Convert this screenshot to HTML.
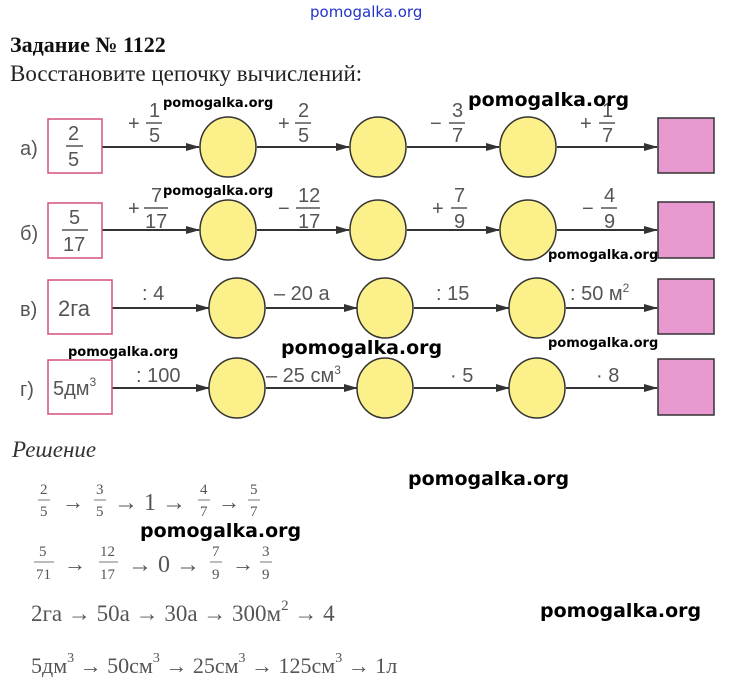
<!DOCTYPE html>
<html><head><meta charset="utf-8"><style>
body{margin:0;background:#fff;width:735px;height:692px;overflow:hidden}
svg{display:block}
.s{font-family:"Liberation Sans",sans-serif;fill:#555}
.w{font-family:"DejaVu Sans","Liberation Sans",sans-serif;fill:#000;font-weight:bold}
.r{font-family:"Liberation Serif",serif;fill:#555}
</style></head><body>
<svg width="735" height="692" viewBox="0 0 735 692" xmlns="http://www.w3.org/2000/svg">
<defs><marker id="a" markerWidth="14" markerHeight="8" refX="13" refY="4" orient="auto" markerUnits="userSpaceOnUse"><path d="M0,0 L14,4 L0,8 z" fill="#333"/></marker></defs>
<text x="310" y="17" font-family="DejaVu Sans,sans-serif" font-size="15" fill="#2233cc">pomogalka.org</text>
<text x="10" y="52" font-family="Liberation Serif,serif" font-weight="bold" font-size="22" fill="#111">Задание № 1122</text>
<text x="10" y="81" font-family="Liberation Serif,serif" font-size="23" fill="#222">Восстановите цепочку вычислений:</text>

<g stroke="#333" stroke-width="2" fill="none">
<line x1="102" y1="147" x2="199" y2="147" marker-end="url(#a)"/>
<line x1="257" y1="147" x2="349" y2="147" marker-end="url(#a)"/>
<line x1="407" y1="147" x2="499" y2="147" marker-end="url(#a)"/>
<line x1="557" y1="147" x2="657" y2="147" marker-end="url(#a)"/>
<line x1="102" y1="230" x2="199" y2="230" marker-end="url(#a)"/>
<line x1="257" y1="230" x2="349" y2="230" marker-end="url(#a)"/>
<line x1="407" y1="230" x2="499" y2="230" marker-end="url(#a)"/>
<line x1="557" y1="230" x2="657" y2="230" marker-end="url(#a)"/>
<line x1="112" y1="308" x2="209" y2="308" marker-end="url(#a)"/>
<line x1="266" y1="308" x2="357" y2="308" marker-end="url(#a)"/>
<line x1="414" y1="308" x2="509" y2="308" marker-end="url(#a)"/>
<line x1="566" y1="308" x2="657" y2="308" marker-end="url(#a)"/>
<line x1="112" y1="388" x2="209" y2="388" marker-end="url(#a)"/>
<line x1="266" y1="388" x2="357" y2="388" marker-end="url(#a)"/>
<line x1="414" y1="388" x2="509" y2="388" marker-end="url(#a)"/>
<line x1="566" y1="388" x2="657" y2="388" marker-end="url(#a)"/>
</g>
<g fill="#fff" stroke="#d4507a" stroke-width="1.5">
<rect x="48" y="119" width="54" height="54"/><rect x="48" y="203" width="54" height="55"/>
<rect x="48" y="280" width="64" height="54"/><rect x="48" y="360" width="64" height="54"/>
</g>
<g fill="#e89ad0" stroke="#333" stroke-width="1.5">
<rect x="658" y="118" width="56" height="55"/><rect x="658" y="202" width="56" height="56"/>
<rect x="658" y="279" width="56" height="55"/><rect x="658" y="359" width="56" height="56"/>
</g>
<g fill="#fbf08a" stroke="#333" stroke-width="1.5">
<ellipse cx="228" cy="147" rx="28" ry="30"/><ellipse cx="378" cy="147" rx="28" ry="30"/><ellipse cx="528" cy="147" rx="28" ry="30"/>
<ellipse cx="228" cy="230" rx="28" ry="30"/><ellipse cx="378" cy="230" rx="28" ry="30"/><ellipse cx="528" cy="230" rx="28" ry="30"/>
<ellipse cx="237" cy="308" rx="28" ry="30"/><ellipse cx="385" cy="308" rx="28" ry="30"/><ellipse cx="537" cy="308" rx="28" ry="30"/>
<ellipse cx="237" cy="388" rx="28" ry="30"/><ellipse cx="385" cy="388" rx="28" ry="30"/><ellipse cx="537" cy="388" rx="28" ry="30"/>
</g>
<g class="s" font-size="20">
<text x="20" y="155">а)</text><text x="20" y="240">б)</text><text x="20" y="316">в)</text><text x="20" y="396">г)</text>
<text x="68" y="140">2</text><text x="68" y="166">5</text><line x1="66" y1="146" x2="83" y2="146" stroke="#555" stroke-width="1.5"/>
<text x="69" y="224">5</text><text x="63" y="251">17</text><line x1="62" y1="230" x2="88" y2="230" stroke="#555" stroke-width="1.5"/>
<text x="58" y="316" font-size="22">2га</text>
<text x="53" y="395" font-size="20">5дм<tspan font-size="12" dy="-9">3</tspan></text>
<text x="128" y="130">+</text><text x="149" y="117">1</text><text x="149" y="142">5</text><line x1="146" y1="123" x2="162" y2="123" stroke="#555" stroke-width="1.5"/>
<text x="278" y="130">+</text><text x="298" y="117">2</text><text x="298" y="142">5</text><line x1="295" y1="123" x2="311" y2="123" stroke="#555" stroke-width="1.5"/>
<text x="430" y="130">−</text><text x="452" y="117">3</text><text x="452" y="142">7</text><line x1="449" y1="123" x2="465" y2="123" stroke="#555" stroke-width="1.5"/>
<text x="580" y="130">+</text><text x="602" y="117">1</text><text x="602" y="142">7</text><line x1="599" y1="123" x2="615" y2="123" stroke="#555" stroke-width="1.5"/>
<text x="128" y="215">+</text><text x="151" y="202">7</text><text x="145" y="228">17</text><line x1="144" y1="208" x2="168" y2="208" stroke="#555" stroke-width="1.5"/>
<text x="278" y="215">−</text><text x="298" y="202">12</text><text x="298" y="228">17</text><line x1="296" y1="208" x2="320" y2="208" stroke="#555" stroke-width="1.5"/>
<text x="432" y="215">+</text><text x="454" y="202">7</text><text x="454" y="228">9</text><line x1="451" y1="208" x2="467" y2="208" stroke="#555" stroke-width="1.5"/>
<text x="582" y="215">−</text><text x="604" y="202">4</text><text x="604" y="228">9</text><line x1="601" y1="208" x2="617" y2="208" stroke="#555" stroke-width="1.5"/>
<text x="142" y="300">: 4</text><text x="274" y="300">– 20 а</text><text x="436" y="300">: 15</text><text x="570" y="300">: 50 м<tspan font-size="12" dy="-8">2</tspan></text>
<text x="136" y="382">: 100</text><text x="266" y="382">– 25 см<tspan font-size="12" dy="-8">3</tspan></text><text x="450" y="382">· 5</text><text x="596" y="382">· 8</text>
</g>
<g class="w">
<text x="163" y="107" font-size="13">pomogalka.org</text>
<text x="468" y="106" font-size="19">pomogalka.org</text>
<text x="163" y="195" font-size="13">pomogalka.org</text>
<text x="548" y="259" font-size="13">pomogalka.org</text>
<text x="68" y="356" font-size="13">pomogalka.org</text>
<text x="281" y="354" font-size="19">pomogalka.org</text>
<text x="548" y="347" font-size="13">pomogalka.org</text>
<text x="408" y="485" font-size="19">pomogalka.org</text>
<text x="140" y="537" font-size="19">pomogalka.org</text>
<text x="540" y="617" font-size="19">pomogalka.org</text>
</g>
<text x="12" y="457" font-family="Liberation Serif,serif" font-style="italic" font-size="23" fill="#333">Решение</text>
<g class="r">
<g font-size="15"><text x="40" y="494">2</text><text x="40" y="516">5</text><line x1="38" y1="500" x2="50" y2="500" stroke="#777"/>
<text x="62" y="509" font-size="22">→</text>
<text x="96" y="494">3</text><text x="96" y="516">5</text><line x1="94" y1="500" x2="106" y2="500" stroke="#777"/>
<text x="114" y="510" font-size="24">→ 1 →</text>
<text x="200" y="494">4</text><text x="200" y="516">7</text><line x1="198" y1="500" x2="210" y2="500" stroke="#777"/>
<text x="218" y="509" font-size="22">→</text>
<text x="250" y="494">5</text><text x="250" y="516">7</text><line x1="248" y1="500" x2="260" y2="500" stroke="#777"/>
</g>
<g font-size="15"><text x="39" y="556">5</text><text x="36" y="579">71</text><line x1="34" y1="562" x2="54" y2="562" stroke="#777"/>
<text x="64" y="571" font-size="22">→</text>
<text x="100" y="556">12</text><text x="100" y="579">17</text><line x1="99" y1="562" x2="118" y2="562" stroke="#777"/>
<text x="128" y="572" font-size="24">→ 0 →</text>
<text x="212" y="556">7</text><text x="212" y="579">9</text><line x1="210" y1="562" x2="222" y2="562" stroke="#777"/>
<text x="232" y="571" font-size="22">→</text>
<text x="262" y="556">3</text><text x="262" y="579">9</text><line x1="260" y1="562" x2="272" y2="562" stroke="#777"/>
</g>
<text x="31" y="621" font-size="23">2га → 50а → 30а → 300м<tspan font-size="15" dy="-11">2</tspan><tspan dy="11"> → 4</tspan></text>
<text x="31" y="673" font-size="22">5дм<tspan font-size="14" dy="-11">3</tspan><tspan dy="11"> → 50см</tspan><tspan font-size="14" dy="-11">3</tspan><tspan dy="11"> → 25см</tspan><tspan font-size="14" dy="-11">3</tspan><tspan dy="11"> → 125см</tspan><tspan font-size="14" dy="-11">3</tspan><tspan dy="11"> → 1л</tspan></text>
</g>
</svg>
</body></html>
